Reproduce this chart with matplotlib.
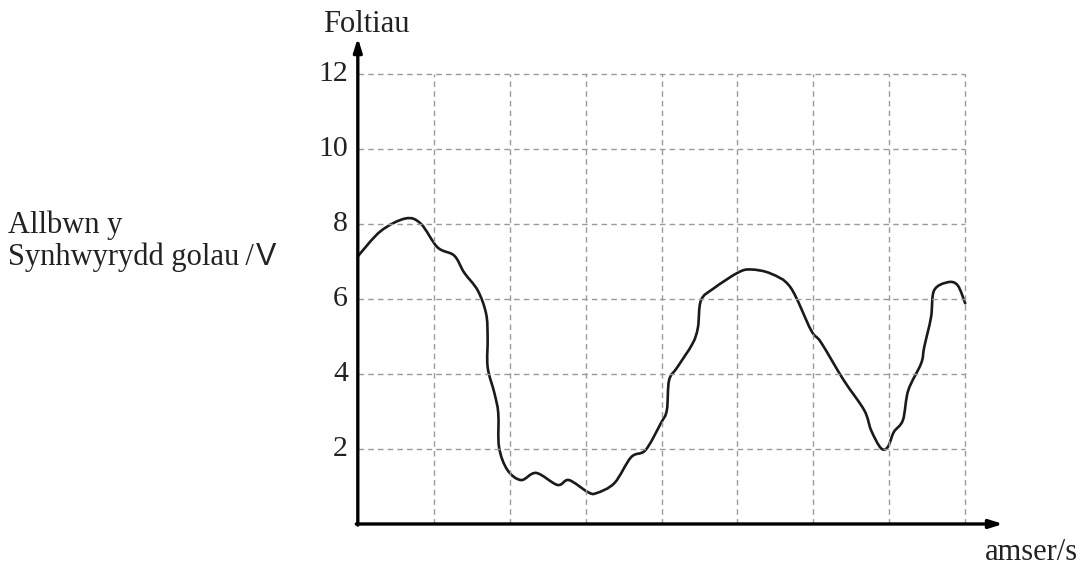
import numpy as np
import matplotlib
matplotlib.use("Agg")
import matplotlib.pyplot as plt
from matplotlib.path import Path
from matplotlib.patches import PathPatch

# values (time in grid units, volts)
amser = [0.0, 0.30, 0.63, 0.83, 1.05, 1.27, 1.40, 1.58, 1.69, 1.71, 1.71, 1.80,
         1.85, 1.86, 1.97, 2.15, 2.35, 2.63, 2.78, 3.03, 3.14, 3.38, 3.60, 3.79,
         3.99, 4.07, 4.10, 4.21, 4.41, 4.48, 4.52, 4.69, 5.01, 5.18, 5.44, 5.70,
         5.97, 6.10, 6.40, 6.67, 6.76, 6.89, 6.98, 7.06, 7.18, 7.25, 7.42, 7.46,
         7.55, 7.59, 7.77, 7.90, 8.0]
foltiau = [7.13, 7.80, 8.14, 8.00, 7.37, 7.15, 6.70, 6.22, 5.60, 4.97, 4.18, 3.48,
           2.95, 2.05, 1.44, 1.17, 1.36, 1.04, 1.17, 0.85, 0.82, 1.09, 1.78, 1.97,
           2.68, 3.03, 3.83, 4.18, 4.81, 5.24, 5.96, 6.28, 6.70, 6.78, 6.67, 6.30,
           5.16, 4.84, 3.83, 3.03, 2.50, 2.02, 2.05, 2.45, 2.77, 3.56, 4.28, 4.71,
           5.51, 6.22, 6.44, 6.36, 5.88]
x_grid = [1, 2, 3, 4, 5, 6, 7, 8]
y_ticks = [2, 4, 6, 8, 10, 12]

serif = "Liberation Serif"
ink = "#222222"
fs = 22


def smooth_path(xs, ys, k=1 / 6):
    # Catmull-Rom through the read points, as cubic Bezier segments
    p = np.column_stack([xs, ys])
    verts = [p[0]]
    codes = [Path.MOVETO]
    for i in range(len(p) - 1):
        p0 = p[max(i - 1, 0)]
        p1, p2 = p[i], p[i + 1]
        p3 = p[min(i + 2, len(p) - 1)]
        verts += [p1 + (p2 - p0) * k, p2 - (p3 - p1) * k, p2]
        codes += [Path.CURVE4] * 3
    return Path(verts, codes)


fig = plt.figure(figsize=(10.81, 5.65), dpi=100)
ax = fig.add_axes([0.331, 0.0726, 0.597, 0.857])
ax.set_xlim(0, 8.5)
ax.set_ylim(0, 12.9)
for s in ax.spines.values():
    s.set_visible(False)
ax.set_xticks([])
ax.set_yticks([])

# dashed grid, only inside the 8 x 12 box
ax.vlines(x_grid, 0, 12, colors="#9a9a9a", linestyles=(0, (4, 3)), linewidth=1.0)
ax.hlines(y_ticks, 0, 8, colors="#9a9a9a", linestyles=(0, (4, 3)), linewidth=1.0)

# axes with arrows
arrow = dict(arrowstyle="-|>,head_length=0.8,head_width=0.25",
             color="black", lw=2.4, shrinkA=0, shrinkB=0)
ax.annotate("", xy=(0, 12.95), xytext=(0, -0.03), arrowprops=arrow,
            annotation_clip=False)
ax.annotate("", xy=(8.5, 0), xytext=(-0.02, 0), arrowprops=arrow,
            annotation_clip=False)

ax.add_patch(PathPatch(smooth_path(amser, foltiau), facecolor="none",
                       edgecolor="#1a1a1a", lw=1.9, joinstyle="round",
                       capstyle="round"))

for v in y_ticks:
    ax.text(-0.13, v, str(v), ha="right", va="center", fontsize=21.5,
            family=serif, color=ink)

fig.text(323 / 1081, 1 - 32 / 565, "Foltiau", ha="left", va="baseline",
         fontsize=fs, family=serif, color=ink)
fig.text(985 / 1081, 1 - 560 / 565, "amser/s", ha="left", va="baseline",
         fontsize=fs, family=serif, color=ink)
fig.text(8 / 1081, 1 - 233 / 565, "Allbwn y", ha="left", va="baseline",
         fontsize=fs, family=serif, color=ink)
fig.text(8 / 1081, 1 - 265 / 565, "Synhwyrydd golau\u2009/", ha="left",
         va="baseline", fontsize=fs, family=serif, color=ink)
fig.text(256 / 1081, 1 - 265 / 565, "V", ha="left", va="baseline",
         fontsize=22, family="Liberation Sans", color=ink)

fig.savefig("out.png", dpi=100)
